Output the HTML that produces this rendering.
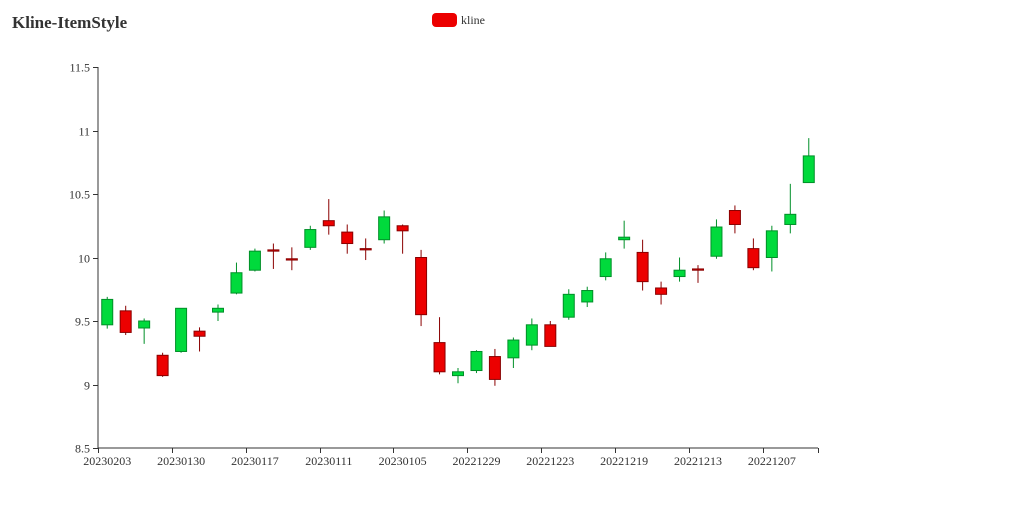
<!DOCTYPE html>
<html><head><meta charset="utf-8"><style>
body{margin:0;background:#fff;}
svg{display:block;font-family:"Liberation Serif",serif;}
</style></head><body>
<svg id="chart" width="1024" height="516">
<text x="12" y="28" font-size="17" font-weight="bold" fill="#333">Kline-ItemStyle</text>
<g>
<rect x="432" y="13" width="25" height="14" rx="4" fill="#ec0000"/>
<text x="461" y="24" font-size="12" fill="#333">kline</text>
</g>
<g id="axes"></g>
<g id="marks"></g>
</svg>
<script>
const categories=["20230203","20230202","20230201","20230131","20230130","20230129","20230128","20230127","20230117","20230116","20230115","20230114","20230111","20230110","20230109","20230108","20230105","20230104","20230103","20230102","20221229","20221228","20221227","20221226","20221223","20221222","20221221","20221220","20221219","20221218","20221217","20221216","20221213","20221212","20221211","20221210","20221207","20221206","20221205"];
const openVals=[9.47,9.58,9.445,9.23,9.26,9.42,9.57,9.72,9.90,10.06,9.99,10.08,10.29,10.20,10.07,10.14,10.25,10.00,9.33,9.07,9.11,9.22,9.21,9.31,9.47,9.53,9.65,9.85,10.14,10.04,9.76,9.85,9.91,10.01,10.37,10.07,10.00,10.26,10.59];
const closeVals=[9.67,9.41,9.50,9.07,9.60,9.38,9.60,9.88,10.05,10.05,9.98,10.22,10.25,10.11,10.06,10.32,10.21,9.55,9.10,9.10,9.26,9.04,9.35,9.47,9.30,9.71,9.74,9.99,10.16,9.81,9.71,9.90,9.90,10.24,10.26,9.92,10.21,10.34,10.80];
const lowVals=[9.44,9.39,9.32,9.06,9.25,9.26,9.50,9.71,9.89,9.91,9.90,10.06,10.18,10.03,9.98,10.11,10.03,9.46,9.08,9.01,9.09,8.99,9.13,9.27,9.30,9.51,9.61,9.82,10.07,9.74,9.63,9.81,9.80,9.99,10.19,9.90,9.89,10.19,10.59];
const highVals=[9.69,9.62,9.52,9.25,9.60,9.45,9.63,9.96,10.07,10.11,10.08,10.25,10.46,10.26,10.15,10.37,10.26,10.06,9.53,9.13,9.27,9.28,9.37,9.52,9.50,9.75,9.77,10.04,10.29,10.14,9.81,10.00,9.94,10.30,10.41,10.15,10.25,10.58,10.94];
const yTicks=[8.5,9,9.5,10,10.5,11,11.5];
const yTickLabels=["8.5","9","9.5","10","10.5","11","11.5"];

const X0=98,X1=818,Y0=448,Y1=67,YMIN=8.5,YMAX=11.5;
const band=(X1-X0)/categories.length;
const xScale=i=>X0+band*(i+0.5);
const yScale=v=>Y0-(v-YMIN)/(YMAX-YMIN)*(Y0-Y1);
const NS="http://www.w3.org/2000/svg";
function mk(tag,attrs,parent){const e=document.createElementNS(NS,tag);for(const k in attrs)e.setAttribute(k,attrs[k]);parent.appendChild(e);return e;}
const axes=document.getElementById('axes'),marks=document.getElementById('marks');
let a=mk('line',{x1:X0,y1:Y1,x2:X0,y2:Y0,stroke:'#333'},axes);


a=mk('line',{x1:X0,y1:Y0,x2:X1,y2:Y0,stroke:'#333'},axes);


yTicks.forEach((v,i)=>{const y=Math.round(yScale(v))+0.5;
 let t=mk('line',{x1:X0-5,y1:y,x2:X0,y2:y,stroke:'#333'},axes);
 
 
 let l=mk('text',{x:X0-8,y:y+4,'text-anchor':'end','font-size':12,fill:'#333'},axes);l.textContent=yTickLabels[i];
 
 
});
for(let i=0;i<=categories.length;i++){
 if(i%4!==0&&i!==categories.length)continue;
 const x=Math.round(X0+band*i)+0.5;
 let t=mk('line',{x1:x,y1:Y0,x2:x,y2:Y0+5,stroke:'#333'},axes);
 
 
 if(i<categories.length){
  let l=mk('text',{x:xScale(i),y:Y0+17,'text-anchor':'middle','font-size':12,fill:'#333'},axes);l.textContent=categories[i];
  
  
 }
}
categories.forEach((c,i)=>{
 const up=closeVals[i]>=openVals[i];
 const fill=up?'#00da3c':'#ec0000',stroke=up?'#008f28':'#8a0000';
 const x=xScale(i);
 const g=mk('g',{},marks);
 
 
 mk('line',{x1:x,y1:yScale(highVals[i]),x2:x,y2:yScale(lowVals[i]),stroke:stroke,'stroke-width':1},g);
 const top=yScale(Math.max(openVals[i],closeVals[i])),bot=yScale(Math.min(openVals[i],closeVals[i]));
 mk('rect',{x:x-5.5,y:top,width:11,height:Math.max(bot-top,1),fill:fill,stroke:stroke,'stroke-width':1},g);
});
</script>
</body></html>
